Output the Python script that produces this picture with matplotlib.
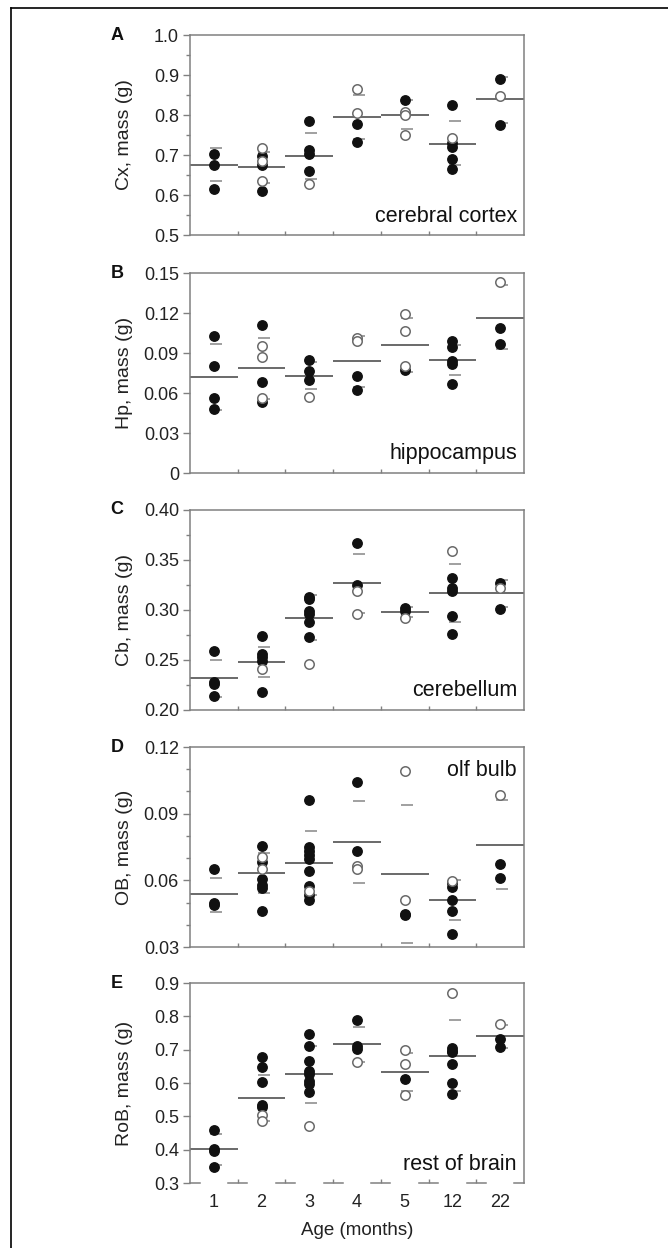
import numpy as np
import matplotlib.pyplot as plt
from matplotlib.ticker import MultipleLocator, FixedLocator, NullFormatter
from matplotlib.lines import Line2D

plt.rcParams['font.family'] = ['Liberation Sans', 'DejaVu Sans']

ages = ['1', '2', '3', '4', '5', '12', '22']

# A - cerebral cortex
cx_filled = [[0.703, 0.674, 0.616], [0.697, 0.675, 0.610], [0.785, 0.713, 0.703, 0.660],
             [0.778, 0.733], [0.838], [0.824, 0.731, 0.721, 0.691, 0.666], [0.890, 0.776]]
cx_open = [[], [0.717, 0.685, 0.636], [0.627], [0.866, 0.805], [0.807, 0.801, 0.749],
           [0.742], [0.848]]
cx_mean = [0.675, 0.670, 0.698, 0.795, 0.800, 0.728, 0.839]
cx_hi = [0.717, 0.708, 0.756, 0.851, 0.837, 0.784, 0.895]
cx_lo = [0.634, 0.631, 0.640, 0.739, 0.764, 0.675, 0.781]

# B - hippocampus
hp_filled = [[0.1028, 0.0805, 0.0564, 0.0481], [0.1108, 0.0684, 0.0534], [0.0847, 0.0767, 0.0697],
             [0.0727, 0.0624], [0.0775], [0.0993, 0.0948, 0.084, 0.0815, 0.0664], [0.1086, 0.0968]]
hp_open = [[], [0.0955, 0.0867, 0.0564], [0.0571], [0.1013, 0.099], [0.1191, 0.1068, 0.080],
           [], [0.143]]
hp_mean = [0.0722, 0.0787, 0.0729, 0.0837, 0.0958, 0.0847, 0.1161]
hp_hi = [0.0968, 0.1013, 0.0835, 0.1028, 0.1161, 0.096, 0.1407]
hp_lo = [0.0476, 0.0554, 0.0627, 0.0647, 0.0757, 0.0734, 0.0928]

# C - cerebellum
cb_filled = [[0.259, 0.228, 0.226, 0.214], [0.274, 0.256, 0.253, 0.249, 0.218],
             [0.313, 0.311, 0.299, 0.296, 0.288, 0.273], [0.367, 0.325], [0.302, 0.299],
             [0.332, 0.322, 0.319, 0.294, 0.276], [0.327, 0.301]]
cb_open = [[], [0.241], [0.246], [0.319, 0.296], [0.292], [0.359], [0.322]]
cb_mean = [0.232, 0.248, 0.292, 0.327, 0.298, 0.317, 0.317]
cb_hi = [0.250, 0.263, 0.315, 0.356, 0.303, 0.346, 0.330]
cb_lo = [0.213, 0.233, 0.270, 0.297, 0.293, 0.288, 0.303]

# D - olfactory bulb
ob_filled = [[0.0653, 0.0498, 0.0488], [0.0753, 0.0681, 0.0605, 0.0578, 0.0566, 0.0462],
             [0.0963, 0.075, 0.0732, 0.0716, 0.0698, 0.0642, 0.0575, 0.0536, 0.051],
             [0.1043, 0.0732], [0.045, 0.0446], [0.059, 0.057, 0.0513, 0.0462, 0.036],
             [0.0672, 0.061]]
ob_open = [[], [0.0705, 0.0653], [0.0552], [0.0665, 0.0653], [0.1092, 0.0513], [0.0596], [0.0983]]
ob_mean = [0.0539, 0.0632, 0.0677, 0.0773, 0.0629, 0.0513, 0.0758]
ob_hi = [0.0612, 0.0723, 0.082, 0.0957, 0.0938, 0.060, 0.096]
ob_lo = [0.0459, 0.0545, 0.0533, 0.059, 0.032, 0.0423, 0.056]

# E - rest of brain
rob_filled = [[0.458, 0.402, 0.395, 0.348], [0.677, 0.648, 0.602, 0.535, 0.528],
              [0.747, 0.71, 0.665, 0.635, 0.627, 0.605, 0.597, 0.572], [0.788, 0.71, 0.703],
              [0.612], [0.705, 0.697, 0.692, 0.658, 0.6, 0.568], [0.732, 0.707]]
rob_open = [[], [0.503, 0.485], [0.472], [0.663], [0.698, 0.658, 0.565], [0.87], [0.777]]
rob_mean = [0.402, 0.556, 0.626, 0.717, 0.633, 0.682, 0.74]
rob_hi = [0.447, 0.624, 0.71, 0.769, 0.69, 0.788, 0.775]
rob_lo = [0.353, 0.487, 0.54, 0.663, 0.577, 0.577, 0.705]

panels = [
    ('A', 'Cx, mass (g)', 'cerebral cortex', cx_filled, cx_open, cx_mean, cx_hi, cx_lo,
     (0.5, 1.0), 0.1, 0.05, '%.1f', 'low'),
    ('B', 'Hp, mass (g)', 'hippocampus', hp_filled, hp_open, hp_mean, hp_hi, hp_lo,
     (0.0, 0.15), 0.03, None, '%.2f', 'low'),
    ('C', 'Cb, mass (g)', 'cerebellum', cb_filled, cb_open, cb_mean, cb_hi, cb_lo,
     (0.20, 0.40), 0.05, 0.025, '%.2f', 'low'),
    ('D', 'OB, mass (g)', 'olf bulb', ob_filled, ob_open, ob_mean, ob_hi, ob_lo,
     (0.03, 0.12), 0.03, 0.01, '%.2f', 'high'),
    ('E', 'RoB, mass (g)', 'rest of brain', rob_filled, rob_open, rob_mean, rob_hi, rob_lo,
     (0.3, 0.9), 0.1, None, '%.1f', 'low'),
]

W, H = 668, 1248
fig = plt.figure(figsize=(W / 100, H / 100), dpi=100)

spine_c = '#808080'
tops = [35, 273, 510, 747, 983]
ax_h = 200
x = np.arange(1, 8)

for (letter, ylab, name, filled, opn, mean, hi, lo, ylim, major, minor, fmt, where), top \
        in zip(panels, tops):
    ax = fig.add_axes([190 / W, 1 - (top + ax_h) / H, 334 / W, ax_h / H])
    ax.set_xlim(0.5, 7.5)
    ax.set_ylim(*ylim)

    ax.hlines(mean, x - 0.5, x + 0.5, color='#505050', lw=1.2, zorder=2)
    ax.hlines(hi, x - 0.08, x + 0.17, color='#999999', lw=1.3, zorder=2)
    ax.hlines(lo, x - 0.08, x + 0.17, color='#999999', lw=1.3, zorder=2)

    for i in range(7):
        ax.plot([x[i]] * len(filled[i]), filled[i], 'o', ms=6.8, mfc='#111111',
                mec='#111111', ls='none', zorder=3)
        ax.plot([x[i]] * len(opn[i]), opn[i], 'o', ms=6.8, mfc='white',
                mec='#6a6a6a', mew=1.1, ls='none', zorder=4)

    ax.yaxis.set_major_locator(MultipleLocator(major))
    if minor:
        ax.yaxis.set_minor_locator(MultipleLocator(minor))
    ticks = ax.get_yticks()
    ax.set_yticks(ticks)
    labels = []
    for t in ticks:
        lab = fmt % t
        if letter == 'B' and abs(t) < 1e-9:
            lab = '0'
        labels.append(lab)
    ax.set_yticklabels(labels)
    ax.set_ylim(*ylim)
    ax.tick_params(axis='y', which='major', direction='out', length=5, width=1,
                   color=spine_c, labelsize=13, labelcolor='#222222', pad=3)
    ax.tick_params(axis='y', which='minor', direction='out', length=3, width=1,
                   color=spine_c)

    ax.xaxis.set_major_locator(FixedLocator(x))
    ax.xaxis.set_minor_locator(FixedLocator(x[:-1] + 0.5))
    ax.xaxis.set_minor_formatter(NullFormatter())
    ax.tick_params(axis='x', which='major', length=0, labelsize=13,
                   labelcolor='#222222', pad=8)
    ax.tick_params(axis='x', which='minor', direction='in', length=3, width=1,
                   color=spine_c)
    if letter == 'E':
        ax.set_xticklabels(ages)
        ax.set_xlabel('Age (months)', fontsize=13.5, color='#222222', labelpad=8)
    else:
        ax.set_xticklabels([])

    for s in ax.spines.values():
        s.set_color(spine_c)
        s.set_linewidth(1.1)

    if letter == 'E':
        # bottom spine of E is broken into short pieces in the original
        ax.spines['bottom'].set_visible(False)
        seg_c = np.concatenate([[0.5], x[:-1] + 0.5, [7.5]])
        y0 = ylim[0]
        for c in seg_c:
            ax.plot([max(c - 0.2, 0.5), min(c + 0.2, 7.5)], [y0, y0], color=spine_c,
                    lw=1.1, clip_on=False, zorder=1)

    ax.set_ylabel(ylab, fontsize=14, color='#222222')
    ax.yaxis.set_label_coords(-0.171, 0.5)

    if where == 'low':
        ax.text(0.979, 0.095, name, transform=ax.transAxes, ha='right', va='center',
                fontsize=15.5, color='#111111')
    else:
        ax.text(0.979, 0.883, name, transform=ax.transAxes, ha='right', va='center',
                fontsize=15.5, color='#111111')

    fig.text(117 / W, 1 - top / H, letter, ha='center', va='center', fontsize=13,
             fontweight='bold', color='#111111')

# outer frame (left and top only)
fig.add_artist(Line2D([11 / W, 11 / W], [0, 1 - 8 / H], color='black', lw=1.2))
fig.add_artist(Line2D([11 / W, 1], [1 - 8 / H, 1 - 8 / H], color='black', lw=1.2))

fig.savefig('out.png', dpi=100)
